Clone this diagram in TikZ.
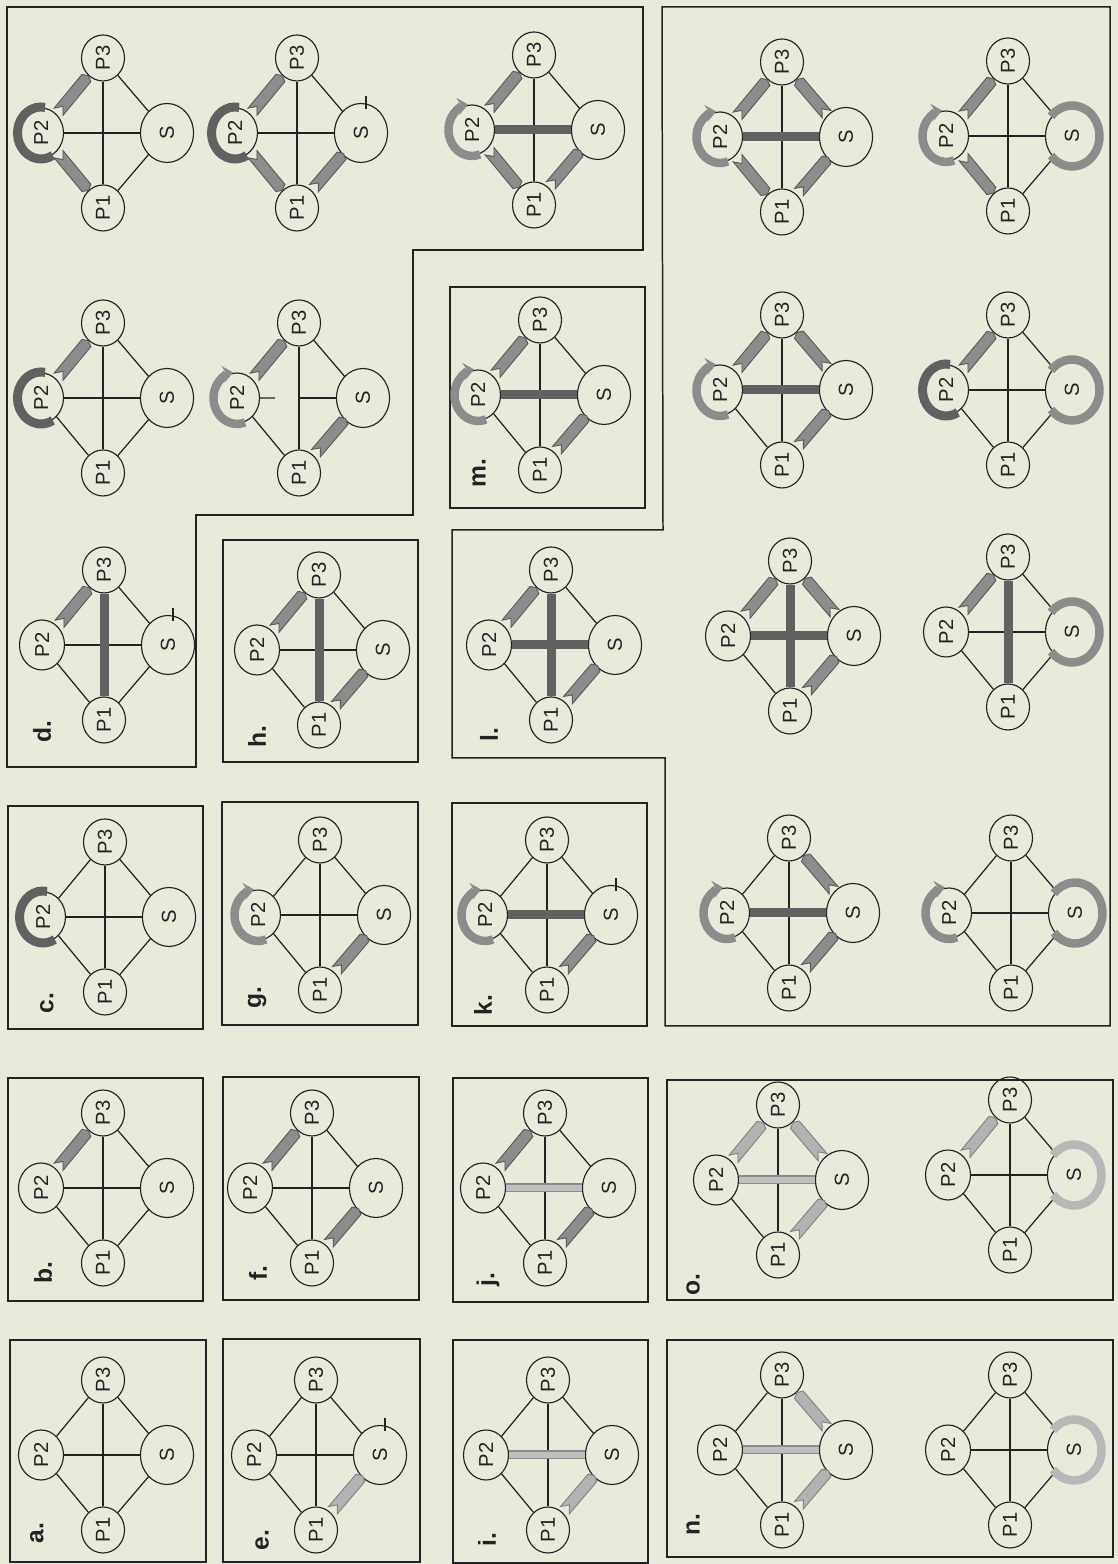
\documentclass[tikz,border=0pt]{standalone}
\usepackage{fontspec}
\setmainfont{Liberation Sans}
\usetikzlibrary{shapes.geometric,calc,arrows.meta}
\definecolor{paper}{RGB}{233,233,220}
\definecolor{ink}{RGB}{35,35,35}
\tikzset{
  pnode/.style={ellipse, draw=ink, line width=0.65pt, inner sep=0pt, rotate=90,
    font=\fontsize{11.5}{11.5}\selectfont, text=ink},
  pp/.style={pnode, minimum width=0.92cm, minimum height=0.86cm},
  ptwo/.style={pnode, minimum width=1.0cm, minimum height=0.9cm},
  ps/.style={pnode, minimum width=1.18cm, minimum height=1.06cm},
  edge/.style={draw=ink, line width=0.7pt},
  frame/.style={draw=ink, line width=0.85pt},
  plabel/.style={rotate=90, font=\bfseries\fontsize{14}{14}\selectfont, text=ink, inner sep=0pt},
  ribdark/.style={fill=black!45, draw=black!65, line width=0.5pt},
  riblight/.style={fill=black!30, draw=black!50, line width=0.5pt},
  bardark/.style={draw=black!62, line width=0.18cm},
  barlight/.style={draw=black!45, double=black!25, double distance=0.12cm, line width=0.03cm},
  curldark/.style={draw=black!62, line width=0.18cm},
  curlmid/.style={draw=black!45, line width=0.17cm},
  curllight/.style={draw=black!28, line width=0.17cm},
}
\expandafter\def\csname rop1\endcsname{0.52cm}
\expandafter\def\csname rop2\endcsname{0.55cm}
\expandafter\def\csname rop3\endcsname{0.52cm}
\expandafter\def\csname ros\endcsname{0.6cm}
% one diagram: prefix, centre x, centre y (image pixels, y downwards)
\newcommand\dia[3]{%
  \node[pp] (#1p3) at (#2,{1564-(#3)+75}) {P3};
  \node[pp] (#1p1) at (#2,{1564-(#3)-75}) {P1};
  \node[ptwo] (#1p2) at ({#2-62},{1564-(#3)}) {P2};
  \node[ps] (#1s) at ({#2+64},{1564-(#3)}) {S};}
\newcommand\dE[2]{\foreach \u/\v in {#2}{\draw[edge] (#1\u) -- (#1\v);}}
\newcommand\dB[4][bardark]{\draw[#1] (#2#3) -- (#2#4);}
\newcommand\dR[4][ribdark]{%
  \path ($(#2#3)!\csname ro#3\endcsname!(#2#4)$) coordinate (rA)
        ($(#2#4)!\csname ro#4\endcsname!(#2#3)$) coordinate (rB);
  \filldraw[#1] ($(rA)!0.115cm!90:(rB)$) -- ($(rB)!0.115cm!-90:(rA)$)
     -- ($(rB)!-0.06cm!(rA)$) -- ($(rB)!0.115cm!90:(rA)$) -- ($(rA)!0.115cm!-90:(rB)$)
     -- ($(rA)!0.14cm!(rB)$) -- cycle;}
\newcommand\dCP[2][curldark]{\draw[#1] (#2p2) ++(80:0.47cm and 0.52cm)
   arc[start angle=80, end angle=300, x radius=0.47cm, y radius=0.52cm];}
\newcommand\dCH[2][curlmid]{\draw[#1, -{Stealth[length=0.2cm, width=0.34cm]}] (#2p2) ++(290:0.47cm and 0.52cm)
   arc[start angle=290, end angle=100, x radius=0.47cm, y radius=0.52cm];}
\newcommand\dCS[2][curllight]{\draw[#1] (#2s) ++(140:0.55cm and 0.61cm)
   arc[start angle=140, end angle=-140, x radius=0.55cm, y radius=0.61cm];}
\newcommand\dT[1]{\draw[edge] ($(#1s)+(5,24)$) -- ($(#1s)+(5,37)$);}

\begin{document}
\begin{tikzpicture}[x=0.02cm,y=0.02cm]
\fill[paper] (0,0) rectangle (1118,1564);
\useasboundingbox (0,0) rectangle (1118,1564);

% ---------- frames ----------
\draw[frame] (10,2) rectangle (206,224);
\draw[frame] (8,263) rectangle (203,486);
\draw[frame] (8,535) rectangle (203,758);
\draw[frame] (223,2) rectangle (420,225);
\draw[frame] (223,264) rectangle (419,487);
\draw[frame] (222,539) rectangle (418,762);
\draw[frame] (223,802) rectangle (418,1024);
\draw[frame] (453,1) rectangle (648,224);
\draw[frame] (453,262) rectangle (648,486);
\draw[frame] (452,538) rectangle (647,761);
\draw[frame] (450,1056) rectangle (645,1277);
\draw[frame] (667,7) rectangle (1113,224);
\draw[frame] (667,264) rectangle (1113,484);
\draw[frame] (7,1557) -- (643,1557) -- (643,1314) -- (413,1314) -- (413,1049)
   -- (196,1049) -- (196,797) -- (7,797) -- cycle;
\draw[frame] (662,1557) -- (1110,1557) -- (1110,538) -- (665,538) -- (665,806)
   -- (452,806) -- (452,1034) -- (663,1034) -- cycle;

% ---------- panel labels ----------
\node[plabel] (la-a) at (37,31) {a.};
\node[plabel] (la-b) at (43,291) {b.};
\node[plabel] (la-c) at (47,561) {c.};
\node[plabel] (la-d) at (42,832) {d.};
\node[plabel] (la-e) at (262,24) {e.};
\node[plabel] (la-f) at (258,291) {f.};
\node[plabel] (la-g) at (257,566) {g.};
\node[plabel] (la-h) at (257,827) {h.};
\node[plabel] (la-i) at (487,24) {i.};
\node[plabel] (la-j) at (488,284) {j.};
\node[plabel] (la-k) at (483,559) {k.};
\node[plabel] (la-l) at (489,829) {l.};
\node[plabel] (la-m) at (479,1091) {m.};
\node[plabel] (la-n) at (693,39) {n.};
\node[plabel] (la-o) at (693,279) {o.};

% ---------- column 1 ----------
\dia{a}{103}{1455}
\dE{a}{p2/p3,p3/s,s/p1,p1/p2,p2/s,p1/p3}
\dia{b}{103}{1188}
\dE{b}{p3/s,s/p1,p1/p2,p2/s,p1/p3} \dR{b}{p2}{p3}
\dia{c}{105}{917}
\dE{c}{p2/p3,p3/s,s/p1,p1/p2,p2/s,p1/p3} \dCP{c}
\dia{d}{104}{645}
\dE{d}{p3/s,s/p1,p1/p2,p2/s} \dB{d}{p1}{p3} \dR{d}{p2}{p3} \dT{d}
\dia{da}{103}{398}
\dE{da}{p3/s,s/p1,p1/p2,p2/s,p1/p3} \dCP{da} \dR{da}{p2}{p3}
\dia{dc}{103}{133}
\dE{dc}{p3/s,s/p1,p2/s,p1/p3} \dCP{dc} \dR{dc}{p2}{p3} \dR{dc}{p2}{p1}

% ---------- column 2 ----------
\dia{e}{316}{1455}
\dE{e}{p2/p3,p3/s,p1/p2,p2/s,p1/p3} \dR[riblight]{e}{p1}{s} \dT{e}
\dia{f}{312}{1188}
\dE{f}{p3/s,p1/p2,p2/s,p1/p3} \dR{f}{p2}{p3} \dR{f}{p1}{s}
\dia{g}{320}{915}
\dE{g}{p2/p3,p3/s,p1/p2,p2/s,p1/p3} \dCH{g} \dR{g}{p1}{s}
\dia{h}{319}{650}
\dE{h}{p3/s,p1/p2,p2/s} \dB{h}{p1}{p3} \dR{h}{p2}{p3} \dR{h}{p1}{s}
\dia{db}{299}{398}
\dE{db}{p3/s,p1/p2,p1/p3}
\draw[edge] (dbp2) -- ($(dbp2)!0.3!(dbs)$);
\draw[edge] ($(dbp2)!0.5!(dbs)$) -- (dbs);
\dCH{db} \dR{db}{p2}{p3} \dR{db}{p1}{s}
\dia{dd}{297}{133}
\dE{dd}{p3/s,p2/s,p1/p3} \dCP{dd} \dR{dd}{p2}{p3} \dR{dd}{p2}{p1} \dR{dd}{p1}{s} \dT{dd}

% ---------- column 3 ----------
\dia{i}{548}{1455}
\dE{i}{p2/p3,p3/s,p1/p2,p1/p3} \dB[barlight]{i}{p2}{s} \dR[riblight]{i}{p1}{s}
\dia{j}{545}{1188}
\dE{j}{p3/s,p1/p2,p1/p3} \dB[barlight]{j}{p2}{s} \dR{j}{p2}{p3} \dR{j}{p1}{s}
\dia{k}{547}{915}
\dE{k}{p2/p3,p3/s,p1/p2,p1/p3} \dCH{k} \dB{k}{p2}{s} \dR{k}{p1}{s} \dT{k}
\dia{l}{551}{645}
\dE{l}{p3/s,p1/p2} \dB{l}{p2}{s} \dB{l}{p1}{p3} \dR{l}{p2}{p3} \dR{l}{p1}{s}
\dia{m}{540}{395}
\dE{m}{p3/s,p1/p2,p1/p3} \dCH{m} \dB{m}{p2}{s} \dR{m}{p2}{p3} \dR{m}{p1}{s}
\dia{de}{534}{130}
\dE{de}{p3/s,p1/p3} \dCH{de} \dB{de}{p2}{s} \dR{de}{p2}{p3} \dR{de}{p2}{p1} \dR{de}{p1}{s}

% ---------- columns 4 and 5 ----------
\dia{na}{782}{1450}
\dE{na}{p2/p3,p1/p2,p1/p3} \dB[barlight]{na}{p2}{s} \dR[riblight]{na}{s}{p3} \dR[riblight]{na}{p1}{s}
\dia{nb}{1010}{1450}
\dE{nb}{p2/p3,p3/s,s/p1,p1/p2,p2/s,p1/p3} \dCS{nb}
\dia{oa}{778}{1180}
\dE{oa}{p1/p2,p1/p3} \dB[barlight]{oa}{p2}{s} \dR[riblight]{oa}{p2}{p3} \dR[riblight]{oa}{s}{p3} \dR[riblight]{oa}{p1}{s}
\dia{ob}{1010}{1175}
\dE{ob}{p3/s,s/p1,p1/p2,p2/s,p1/p3} \dR[riblight]{ob}{p2}{p3} \dCS{ob}
\dia{lg}{789}{913}
\dE{lg}{p2/p3,p1/p2,p1/p3} \dCH{lg} \dB{lg}{p2}{s} \dR{lg}{s}{p3} \dR{lg}{p1}{s}
\dia{lh}{1011}{913}
\dE{lh}{p2/p3,p3/s,s/p1,p1/p2,p2/s,p1/p3} \dCH{lh} \dCS[curlmid]{lh}
\dia{le}{790}{636}
\dE{le}{p1/p2} \dB{le}{p2}{s} \dB{le}{p1}{p3} \dR{le}{p2}{p3} \dR{le}{s}{p3} \dR{le}{p1}{s}
\dia{lf}{1008}{632}
\dE{lf}{p3/s,s/p1,p1/p2,p2/s} \dB{lf}{p1}{p3} \dCS[curlmid]{lf} \dR{lf}{p2}{p3}
\dia{lc}{782}{390}
\dE{lc}{p1/p2,p1/p3} \dCH{lc} \dB{lc}{p2}{s} \dR{lc}{p2}{p3} \dR{lc}{s}{p3} \dR{lc}{p1}{s}
\dia{ld}{1008}{390}
\dE{ld}{p3/s,s/p1,p1/p2,p2/s,p1/p3} \dCP{ld} \dCS[curlmid]{ld} \dR{ld}{p2}{p3}
\dia{la}{782}{137}
\dE{la}{p1/p3} \dCH{la} \dB{la}{p2}{s} \dR{la}{p2}{p3} \dR{la}{p2}{p1} \dR{la}{s}{p3} \dR{la}{p1}{s}
\dia{lb}{1008}{136}
\dE{lb}{p3/s,s/p1,p2/s,p1/p3} \dCH{lb} \dCS[curlmid]{lb} \dR{lb}{p2}{p3} \dR{lb}{p2}{p1}
\end{tikzpicture}
\end{document}
